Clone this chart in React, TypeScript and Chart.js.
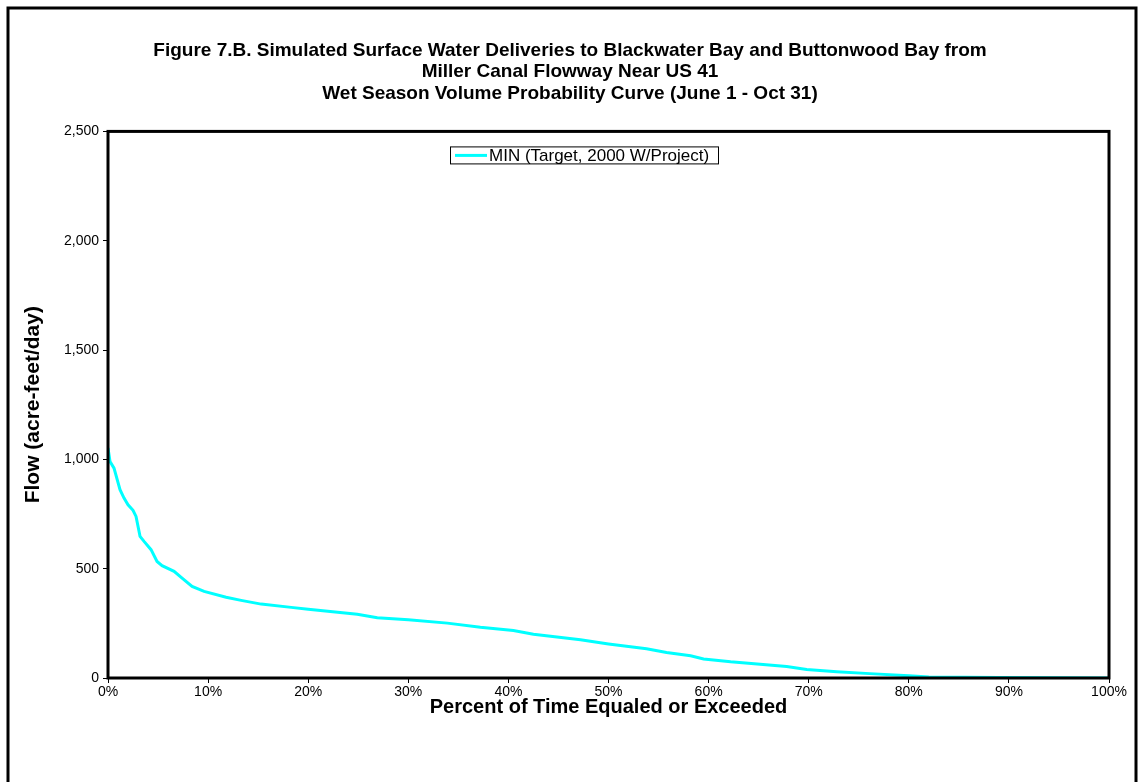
import React, { useEffect, useRef } from "react";
import { Chart, registerables } from "chart.js";

Chart.register(...registerables);

const titleLines = [
  "Figure 7.B. Simulated Surface Water Deliveries to Blackwater Bay and Buttonwood Bay from",
  "Miller Canal Flowway Near US 41",
  "Wet Season Volume Probability Curve (June 1 - Oct 31)",
];
const seriesLabel = "MIN (Target, 2000 W/Project)";
const xAxisTitle = "Percent of Time Equaled or Exceeded";
const yAxisTitle = "Flow (acre-feet/day)";

const percentExceeded = [
  0, 0.2, 0.6, 1.2, 1.6, 2.0, 2.5, 2.8, 3.2, 3.6, 4.3, 4.9, 5.4, 6.6, 7.4, 8.4, 9.6,
  11.8, 13.3, 15.3, 18.3, 20, 24.9, 26.9, 30, 33.9, 37.2, 40.5, 42.5, 47.2, 50, 53.8,
  55.8, 58.2, 59.5, 62.2, 67.8, 69.8, 72.8, 76.1, 80, 82, 89, 100,
];
const flowValues = [
  1052, 990, 960, 861, 823, 792, 767, 739, 648, 625, 587, 533, 514, 488, 457, 419, 396,
  369, 355, 338, 323, 314, 292, 276, 266, 251, 232, 217, 200, 175, 156, 134,
  117, 102, 87, 74, 53, 39, 29, 20, 10, 5, 2, 0,
];

const FONT = "'Liberation Sans', Arial, sans-serif";

const framePlugin = {
  id: "frame",
  beforeDraw(chart: any) {
    const { ctx, width, height } = chart;
    ctx.save();
    ctx.fillStyle = "#ffffff";
    ctx.fillRect(0, 0, width, height);
    ctx.strokeStyle = "#000000";
    ctx.lineWidth = 3;
    ctx.strokeRect(8, 8, 1128, height + 20);
    ctx.restore();
  },
  afterDraw(chart: any) {
    const { ctx, chartArea } = chart;
    const { left, top, right, bottom } = chartArea;
    ctx.save();
    ctx.strokeStyle = "#000000";
    ctx.lineWidth = 3;
    ctx.strokeRect(left, top, right - left, bottom - top);
    // legend
    const lx = left + 342;
    const ly = top + 15;
    const lw = 268;
    const lh = 17;
    ctx.fillStyle = "#ffffff";
    ctx.fillRect(lx, ly, lw, lh);
    ctx.lineWidth = 1;
    ctx.strokeStyle = "#000000";
    ctx.strokeRect(lx + 0.5, ly + 0.5, lw, lh);
    ctx.strokeStyle = "#00FFFF";
    ctx.lineWidth = 3;
    ctx.beginPath();
    ctx.moveTo(lx + 5, ly + lh / 2 + 0.5);
    ctx.lineTo(lx + 37, ly + lh / 2 + 0.5);
    ctx.stroke();
    ctx.fillStyle = "#000000";
    ctx.font = `17px ${FONT}`;
    ctx.textBaseline = "middle";
    ctx.textAlign = "left";
    ctx.fillText(seriesLabel, lx + 39, ly + lh / 2 + 1);
    ctx.restore();
  },
};

export default function App() {
  const ref = useRef<HTMLCanvasElement>(null);
  useEffect(() => {
    document.body.style.margin = "0";
    const canvas = ref.current!;
    const data = percentExceeded.map((x, i) => ({ x, y: flowValues[i] }));
    const chart = new Chart(canvas, {
      type: "line",
      data: {
        datasets: [
          {
            label: seriesLabel,
            data,
            borderColor: "#00FFFF",
            backgroundColor: "#00FFFF",
            borderWidth: 3,
            pointRadius: 0,
            tension: 0,
            fill: false,
          },
        ],
      },
      options: {
        animation: false,
        responsive: false,
        devicePixelRatio: 1,
        layout: { padding: 0 },
        plugins: {
          legend: { display: false },
          tooltip: { enabled: false },
          title: {
            display: true,
            text: titleLines,
            color: "#000000",
            font: { family: FONT, size: 19, weight: "bold", lineHeight: 1.13 },
            padding: { top: 40, bottom: 27 },
          },
        },
        scales: {
          x: {
            type: "linear",
            min: 0,
            max: 100,
            afterFit(scale: any) {
              scale.height = 104;
            },
            ticks: {
              stepSize: 10,
              color: "#000000",
              font: { family: FONT, size: 14 },
              padding: 1,
              maxRotation: 0,
              callback: (v: any) => `${v}%`,
            },
            grid: {
              drawOnChartArea: false,
              drawTicks: true,
              tickLength: 5,
              tickColor: "#000000",
              color: "#000000",
            },
            border: { display: false },
            title: {
              display: true,
              text: xAxisTitle,
              color: "#000000",
              font: { family: FONT, size: 20, weight: "bold" },
              padding: { bottom: 63 },
            },
          },
          y: {
            type: "linear",
            min: 0,
            max: 2500,
            afterFit(scale: any) {
              scale.width = 108;
            },
            ticks: {
              stepSize: 500,
              color: "#000000",
              font: { family: FONT, size: 14 },
              padding: 4,
              callback: (v: any) => Number(v).toLocaleString("en-US"),
            },
            grid: {
              drawOnChartArea: false,
              drawTicks: true,
              tickLength: 5,
              tickColor: "#000000",
              color: "#000000",
            },
            border: { display: false },
            title: {
              display: true,
              text: yAxisTitle,
              color: "#000000",
              font: { family: FONT, size: 21, weight: "bold" },
              padding: { top: 21 },
            },
          },
          yRight: {
            type: "linear",
            position: "right",
            min: 0,
            max: 2500,
            afterFit(scale: any) {
              scale.width = 31;
            },
            ticks: { display: false },
            grid: { display: false, drawOnChartArea: false, drawTicks: false },
            border: { display: false },
          },
        },
      },
      plugins: [framePlugin],
    });
    return () => chart.destroy();
  }, []);
  return (
    <div style={{ width: 1140, height: 782 }}>
      <canvas ref={ref} width={1140} height={782} style={{ display: "block" }} />
    </div>
  );
}
